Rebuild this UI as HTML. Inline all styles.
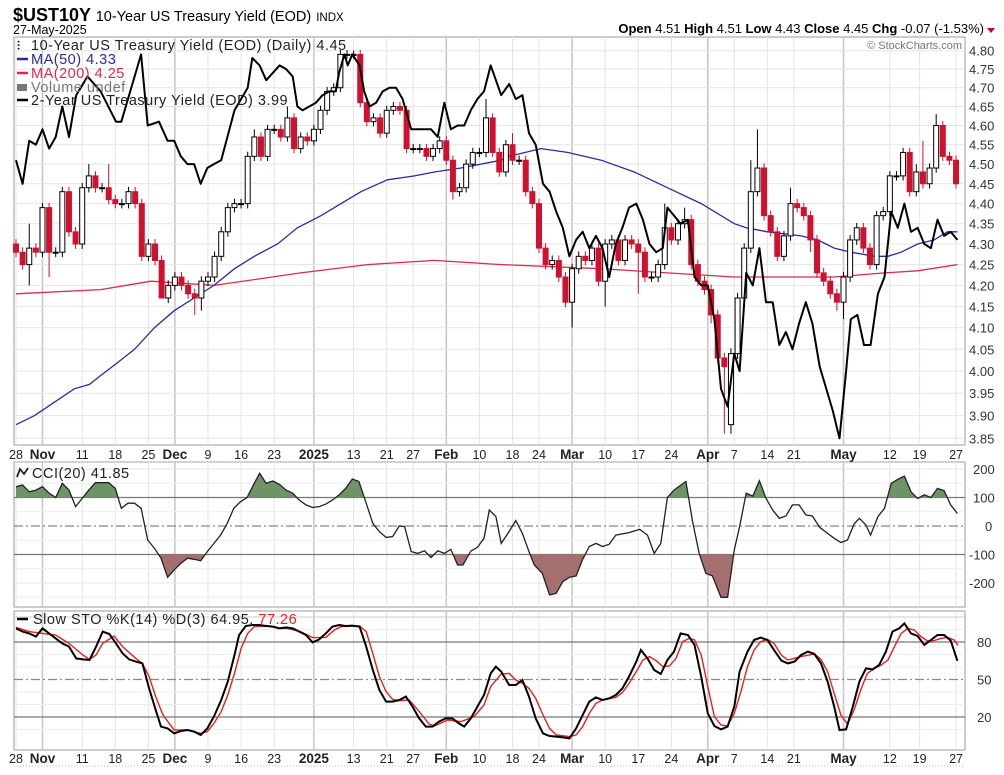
<!DOCTYPE html>
<html><head><meta charset="utf-8">
<style>
html,body{margin:0;padding:0;background:#fff;}
body{width:1004px;height:770px;overflow:hidden;font-family:"Liberation Sans",Arial,sans-serif;}
svg text{font-family:"Liberation Sans",Arial,sans-serif;}
</style></head>
<body>
<svg id="chart" width="1004" height="770" xmlns="http://www.w3.org/2000/svg">
<text x="13" y="21" font-size="18" font-weight="bold">$UST10Y <tspan font-weight="normal" font-size="14.5">10-Year US Treasury Yield (EOD)</tspan> <tspan font-weight="normal" font-size="11.5">INDX</tspan></text>
<text x="13" y="34" font-size="12.5">27-May-2025</text>
<text x="984" y="33" font-size="13" text-anchor="end"><tspan font-weight="bold">Open</tspan> 4.51  <tspan font-weight="bold">High</tspan> 4.51  <tspan font-weight="bold">Low</tspan> 4.43  <tspan font-weight="bold">Close</tspan> 4.45  <tspan font-weight="bold">Chg</tspan> -0.07 (-1.53%)</text>
<path d="M987,28 L995,28 L991,33 Z" fill="#cc0033"/>
<g id="g"></g>
</svg>
<script>
// ---------- DATA ----------
const closes=[4.28,4.25,4.29,4.28,4.39,4.28,4.28,4.43,4.33,4.30,4.44,4.47,4.44,4.44,4.41,4.40,4.40,4.43,4.40,4.27,4.30,4.26,4.17,4.20,4.22,4.20,4.18,4.17,4.21,4.22,4.27,4.33,4.39,4.40,4.40,4.52,4.57,4.52,4.59,4.59,4.57,4.62,4.54,4.57,4.56,4.59,4.64,4.69,4.70,4.79,4.79,4.79,4.66,4.61,4.62,4.58,4.64,4.65,4.64,4.54,4.54,4.54,4.52,4.54,4.56,4.51,4.43,4.44,4.50,4.53,4.53,4.62,4.53,4.48,4.55,4.51,4.51,4.43,4.40,4.29,4.25,4.26,4.22,4.16,4.24,4.27,4.26,4.29,4.21,4.30,4.31,4.26,4.31,4.30,4.28,4.22,4.22,4.25,4.34,4.31,4.35,4.36,4.25,4.21,4.19,4.13,4.03,4.01,4.04,4.17,4.29,4.43,4.49,4.37,4.33,4.27,4.32,4.40,4.39,4.37,4.31,4.23,4.21,4.18,4.16,4.22,4.31,4.34,4.29,4.25,4.37,4.38,4.47,4.47,4.53,4.43,4.48,4.45,4.49,4.60,4.52,4.51,4.45];
const firstOpen=4.30;
const openGaps={108:3.88,142:4.51};
const highExtremes={2:4.35,11:4.50,14:4.50,36:4.59,41:4.65,51:4.80,71:4.67,75:4.58,98:4.40,101:4.39,111:4.51,112:4.59,117:4.44,136:4.50,137:4.56,139:4.63};
const lowExtremes={2:4.20,5:4.22,22:4.17,27:4.13,28:4.14,66:4.41,84:4.10,89:4.15,94:4.18,105:4.11,107:3.86,108:3.86,120:4.28,124:4.14,125:4.12};
const twoYrIdx=[0,1,2,3,4,5,6,7,8,9.1,10.8,12.8,15.1,15.9,18.9,19.9,21.6,22.9,23.9,24.9,25.9,26.9,27.9,28.9,29.9,31,33,35,35.7,36.8,37.8,38.8,39.8,40.8,41.8,42.5,43.3,44.3,45.3,46.3,47.3,48.3,48.8,49.6,50.1,50.8,51.9,52.6,53.4,54.4,55.4,56.4,57.4,58.4,59.7,60.7,61.7,62.7,63.7,64.7,65.7,66.7,67.7,68.7,69.7,70.7,71.7,73.3,74.5,75.5,76.5,77.5,78.5,79.6,80.6,81.6,82.6,83.6,84.6,85.6,86.6,87.6,88.6,89.6,90.6,91.6,92.6,93.7,94.7,95.7,96.7,97.7,98.4,99.4,100.4,101.5,102.5,103.5,104.5,105.5,106.5,107.5,108.5,109.3,110.3,111.3,112.3,113.3,114.3,115.3,116.3,117.3,118.3,119.3,120.3,121.4,122.4,123.4,124.4,125.4,126.1,127.1,128.1,129.1,130.2,131.2,132.2,133.2,134.2,135.2,136.2,137.2,138.2,139.2,140.2,141.2,142.2];
const twoYrVal=[4.51,4.45,4.56,4.55,4.59,4.54,4.57,4.65,4.57,4.68,4.73,4.69,4.61,4.61,4.79,4.60,4.61,4.56,4.56,4.52,4.50,4.50,4.45,4.49,4.50,4.51,4.64,4.70,4.78,4.76,4.72,4.74,4.76,4.75,4.73,4.65,4.64,4.65,4.66,4.68,4.69,4.69,4.74,4.79,4.76,4.79,4.76,4.69,4.65,4.66,4.69,4.70,4.70,4.67,4.59,4.59,4.59,4.59,4.57,4.66,4.59,4.60,4.60,4.64,4.67,4.69,4.76,4.68,4.71,4.67,4.68,4.58,4.55,4.45,4.43,4.38,4.34,4.27,4.31,4.33,4.29,4.32,4.29,4.22,4.30,4.34,4.39,4.40,4.36,4.30,4.28,4.29,4.39,4.37,4.35,4.36,4.22,4.20,4.20,4.12,3.96,3.92,4.04,4.00,4.23,4.20,4.29,4.16,4.16,4.06,4.09,4.05,4.11,4.16,4.11,4.01,3.96,3.91,3.85,4.00,4.12,4.13,4.06,4.06,4.18,4.22,4.38,4.34,4.40,4.33,4.34,4.30,4.29,4.36,4.32,4.33,4.31];
const ma50Idx=[0,2.8,5.8,8.8,11.1,12.8,15.4,17.9,20.9,23.9,26.9,29.9,33,36,39.5,42.5,46.1,48.1,52.1,56.1,60.2,63.2,67.2,73.3,74.5,79.3,83.3,88.4,93.4,98.4,103.5,108.5,110.3,113.5,118.6,121.1,123.6,126.1,129.7,131.7,133.7,136.2,138.7,140.7,142.2];
const ma50Val=[3.88,3.90,3.93,3.96,3.97,3.99,4.02,4.05,4.10,4.14,4.17,4.20,4.24,4.27,4.30,4.34,4.37,4.39,4.43,4.46,4.47,4.48,4.49,4.51,4.52,4.54,4.53,4.51,4.48,4.44,4.40,4.35,4.34,4.33,4.32,4.31,4.29,4.28,4.27,4.27,4.28,4.30,4.31,4.33,4.33];
const ma200Idx=[0,12.8,20.4,29.9,43,53.1,63.2,73.3,88.4,98.4,108.5,123.6,131.2,136.2,142.2];
const ma200Val=[4.18,4.19,4.21,4.20,4.23,4.25,4.26,4.25,4.24,4.23,4.22,4.22,4.23,4.235,4.25];
const cciIdx=[0,1,2,3,4,5,6,7,8,9,10,11,12,14,15,15.9,16.9,17.9,18.9,19.9,20.9,21.9,22.9,23.9,24.9,25.9,26.9,27.9,28.9,29.9,30.9,31.9,32.9,33.9,34.9,36,36.8,37.8,38.8,39.8,40.8,41.8,42.8,43.8,44.8,45.8,46.8,47.8,48.8,49.8,50.8,51.8,52.9,53.9,54.9,55.9,56.9,57.9,58.7,59.7,60.7,61.7,62.7,63.7,64.7,65.7,66.7,67.5,68.7,69.7,70.7,71.5,72.5,73.3,74.3,75.5,76.5,77.5,78.3,79.5,80.6,81.6,82.6,83.6,84.6,85.6,86.6,87.6,88.6,89.6,90.6,92.6,94.2,95.4,96.4,97.4,98.4,99.4,101.2,102.2,103.2,104.2,105.2,106.5,107.5,108.5,109.3,110.3,111.3,112.3,113.3,114.3,115.3,116.3,117.3,118.3,119.3,120.3,121.4,122.6,123.6,124.6,125.6,126.6,127.4,128.4,129.1,130.2,131.2,132.2,133.2,134.2,135.2,136.2,137.2,138.2,139.2,140.2,141.2,142.2];
const cciVal=[138,144,120,126,138,115,100,150,126,68,97,126,152,152,132,62,80,80,62,-49,-78,-113,-180,-154,-131,-113,-117,-122,-90,-61,-32,9,62,85,100,150,185,150,158,146,126,115,91,74,65,68,77,91,109,132,165,156,80,9,-20,-40,-37,0,-2,-90,-96,-87,-111,-87,-96,-82,-137,-137,-88,-75,-43,56,33,-61,-26,19,-26,-90,-137,-166,-242,-236,-195,-180,-175,-117,-72,-61,-72,-64,-32,-23,-12,-32,-96,-61,100,126,156,15,-96,-166,-175,-250,-250,-84,-2,115,105,159,97,56,27,35,74,74,39,35,-5,-26,-43,-58,-49,7,27,3,-32,33,62,150,164,175,120,97,109,100,132,124,74,44];
const stoKIdx=[0,1,2,3,4,5,6,7,8,9.1,10.1,11.1,12.1,13.1,14.1,15.1,16.1,17.1,18.1,19.1,20.1,21.1,21.9,22.9,23.9,24.9,25.9,26.9,27.9,28.9,29.9,31,32,33,33.7,34.7,35.7,36.8,37.8,38.8,39.8,40.8,41.8,42.8,43.8,44.8,45.8,46.8,47.8,48.8,49.8,50.8,51.9,52.9,53.9,54.9,55.9,56.9,57.9,58.9,59.9,60.9,61.9,62.9,63.9,64.9,65.9,66.9,67.7,68.7,69.7,70.7,71.7,72.5,73.3,74.5,75.5,76.5,77.5,78.5,79.6,80.6,81.6,82.6,83.6,84.6,85.6,86.6,87.6,88.6,89.6,90.6,91.6,92.6,93.7,94.4,95.4,96.4,97.4,98.4,99.4,100.4,101.5,102.5,103.5,104.5,105.5,106.5,107.5,108.5,109.3,110.5,111.5,112.5,113.5,114.5,115.6,116.6,117.6,118.6,119.6,120.6,121.6,122.6,123.6,124.4,125.4,126.4,127.4,128.4,129.4,130.4,131.4,132.4,133.4,134.2,135.2,136.2,137.2,138.2,139.2,140.2,141.2,142.2];
const stoKVal=[90.9,88.3,86.9,84.3,90.9,86.9,82.9,78.9,76.3,66.9,66.1,65.6,76.3,88.3,86.4,78.9,70.9,66.1,64.3,62.9,42.9,25.6,12.3,10.9,6.9,8.8,9.6,8.3,5.6,10.9,20.3,33.6,48.3,69.6,85.6,92.8,93.6,93.6,92.8,92.3,90.9,91.7,90.9,88.3,85.6,79.7,82.1,86.9,92.3,93.6,92.8,93.1,92.3,76.3,57.6,41.6,32.3,32.3,33.6,36.3,28.3,18.9,12.3,12.3,16.3,18.9,18.9,14.9,12.3,18.9,28.3,37.6,54.9,60.3,56.3,45.6,45.6,49.6,36.3,18.9,6.9,4.8,4.3,3.7,2.9,10.9,21.6,32.3,35.7,33.6,34.9,37.6,42.9,52.3,64.3,73.6,66.9,57.6,54.4,65.6,72.3,86.9,85.6,77.6,52.3,22.9,12.8,10.1,12.3,28.3,56.3,72.3,81.6,83.5,81.6,73.6,65.1,62.9,64.3,69.6,72.3,70.4,62.9,48.3,28.3,9.6,10.1,28.3,48.3,58.9,58.1,61.6,72.3,88.3,90.9,94.9,86.9,84.8,77.6,81.6,85.6,85.6,81.1,64.95];
const stoDIdx=[0,2,4,6,8,10.1,11.1,12.1,13.1,14.8,16.1,18.1,19.1,20.1,21.1,22.2,23.9,25.9,27.9,28.9,29.9,31,32,33,34,35,36,38,40,41,43,44.8,46.8,48.1,49.1,51.9,52.9,53.9,54.9,55.9,56.9,57.9,59.4,60.9,62.4,63.2,65.2,67.2,69.2,70.7,71.7,73.3,74.5,75.5,76.5,77.5,78.5,79.6,80.6,81.6,83.6,84.6,85.6,86.6,87.6,88.6,90.6,91.6,92.6,93.7,94.7,95.7,96.7,97.7,98.7,99.7,100.7,101.7,102.5,103.5,104.5,105.5,106.5,107.5,108.5,109.5,110.5,111.5,112.5,113.5,114.5,115.6,116.6,118.6,120.6,121.6,122.6,123.6,124.6,125.6,126.6,127.6,128.6,129.7,130.7,131.7,132.7,133.7,134.7,135.7,136.7,137.7,138.7,139.7,140.7,141.7,142.3];
const stoDVal=[91.7,88.3,86.9,85.6,78.9,69.6,66.1,69.6,78.9,84.8,76.3,66.9,62.9,52.3,36.3,21.6,9.6,9.6,6.9,8.3,14.9,24.3,37.6,54.9,74.9,86.9,92.3,92.8,90.9,90.9,88.3,83.5,83.7,89.6,92.3,92.8,88.3,70.9,52.3,40.3,34.1,33.1,33.6,24.3,14.4,12.8,17.6,16.3,20.3,29.6,44.3,54.4,54.9,49.6,46.9,42.9,34.9,21.6,10.9,5.6,4.3,5.6,12.3,22.9,30.9,33.6,35.7,39.5,46.9,56.3,65.6,68.3,65.1,60.3,60.8,66.9,80.3,82.9,81.6,69.6,44.3,20.3,13.6,12.8,22.9,40.3,60.3,73.6,80.3,82.1,78.9,69.6,65.6,68.3,70.4,66.1,56.3,38.9,21.6,14.4,25.6,41.6,54.9,58.9,61.6,65.6,76.3,86.9,90.9,89.6,84.3,80.8,81.1,82.9,83.7,81.6,77.26];
const xTickIdx=[0,4,10,15,20,24,29,34,39,45,51,56,60,65,70,75,79,84,89,94,99,104.5,108.5,113.5,117.5,125,132,136.5,142];
const xTickLbl=['28','Nov','11','18','25','Dec','9','16','23','2025','13','21','27','Feb','10','18','24','Mar','10','17','24','Apr','7','14','21','May','12','19','27'];
const majorTicks=['Nov','Dec','2025','Feb','Mar','Apr','May'];
const priceTicks=[4.80,4.75,4.70,4.65,4.60,4.55,4.50,4.45,4.40,4.35,4.30,4.25,4.20,4.15,4.10,4.05,4.00,3.95,3.90,3.85];
const cciTicks=[200,100,0,-100,-200];
const stoTicks=[80,50,20];

// ---------- SCALES ----------
const L=14,R=965;
const X0=16,DX=6.62;
const xs=i=>X0+i*DX;
const MT=37,MB=445,P_TOP=4.80,P_BOT=3.85,YT=50.7,YB=438.3;
const ym=v=>YT+Math.log(P_TOP/v)/Math.log(P_TOP/P_BOT)*(YB-YT);
const CT=462,CB=607;
const yc=v=>526-v*0.285;
const ST=611,SB=750;
const ys=v=>742-v*1.25;

const NS='http://www.w3.org/2000/svg';
const G=document.getElementById('g');
function mk(tag,attrs,parent){const e=document.createElementNS(NS,tag);for(const k in attrs)e.setAttribute(k,attrs[k]);(parent||G).appendChild(e);return e;}
function txt(s,attrs,parent){const e=mk('text',attrs,parent);e.textContent=s;return e;}

// ---------- PANELS ----------
function panel(top,bot,name){
  const r=mk('rect',{x:L,y:top,width:R-L,height:bot-top,fill:'#fff',stroke:'#999','stroke-width':1});
  
  
  xTickIdx.forEach((t,k)=>{
    const maj=majorTicks.includes(xTickLbl[k]);
    const l=mk('line',{x1:xs(t),x2:xs(t),y1:top,y2:bot,stroke:maj?'#c8c8c8':'#e4e4e4','stroke-width':maj?1.6:1});
    
    
  });
}
panel(MT,MB,'price-panel');
panel(CT,CB,'cci-panel');
panel(ST,SB,'sto-panel');

// price grid + axis
priceTicks.forEach(v=>{
  const y=ym(v);
  const l=mk('line',{x1:L,x2:R,y1:y,y2:y,stroke:'#e4e4e4'});
  
  
  const t=txt(v.toFixed(2),{x:969,y:y+5,'font-size':13,fill:'#333'});
  
  
});
// CCI grid
[150,50,-50,-150,-250].forEach(v=>{const l=mk('line',{x1:L,x2:R,y1:yc(v),y2:yc(v),stroke:'#ececec'});});
cciTicks.forEach(v=>{
  const y=yc(v);
  if(v===100||v===-100){const l=mk('line',{x1:L,x2:R,y1:y,y2:y,stroke:'#777','stroke-width':1.2});}
  else if(v===0){const l=mk('line',{x1:L,x2:R,y1:y,y2:y,stroke:'#888','stroke-width':1.2,'stroke-dasharray':'9,3,2,3'});}
  else {const l=mk('line',{x1:L,x2:R,y1:y,y2:y,stroke:'#e4e4e4'});}
  const t=txt(String(v),{x:v===0?985:(v<0?969:973),y:y+5,'font-size':13,fill:'#333'});
  
  
});
// STO grid
[90,70,60,40,30,10].forEach(v=>{const l=mk('line',{x1:L,x2:R,y1:ys(v),y2:ys(v),stroke:'#ececec'});});
const topLine=mk('line',{x1:L,x2:R,y1:ys(100),y2:ys(100),stroke:'#ccc'});


stoTicks.forEach(v=>{
  const y=ys(v);
  const l=mk('line',{x1:L,x2:R,y1:y,y2:y,stroke:v===50?'#888':'#777','stroke-width':1.2,'stroke-dasharray':v===50?'9,3,2,3':'none'});
  
  
  const t=txt(String(v),{x:977,y:y+5,'font-size':13,fill:'#333'});
  
  
});

// x-axis labels
[[459,'x-axis-labels-top'],[763,'x-axis-labels-bottom']].forEach(([y,n])=>{
  const d=mk('line',{x1:L,x2:R,y1:y+3,y2:y+3,stroke:'#bbb','stroke-dasharray':'1,2'});
  
  
  xTickIdx.forEach((t,k)=>{
    const maj=majorTicks.includes(xTickLbl[k]);
    const e=txt(xTickLbl[k],{x:xs(t),y:y,'font-size':maj?13.5:12.5,'font-weight':maj?'bold':'normal','text-anchor':'middle',fill:'#222'});
    
    
  });
});

// ---------- SERIES ----------
function pathFrom(idx,val,yf){return idx.map((t,k)=>(k?'L':'M')+xs(t).toFixed(1)+','+yf(val[k]).toFixed(1)).join(' ');}

const ma200=mk('path',{d:pathFrom(ma200Idx,ma200Val,ym),fill:'none',stroke:'#dd2a4a','stroke-width':1.3});


const ma50=mk('path',{d:pathFrom(ma50Idx,ma50Val,ym),fill:'none',stroke:'#2b2ba0','stroke-width':1.3});



closes.forEach((c,i)=>{
  const o=(i in openGaps)?openGaps[i]:(i===0?firstOpen:closes[i-1]);
  const prev=i===0?firstOpen:closes[i-1];
  const col=c>=prev?'#000':'#d0102e';
  const hi=(i in highExtremes)?highExtremes[i]:Math.max(o,c)+0.012;
  const lo=(i in lowExtremes)?lowExtremes[i]:Math.min(o,c)-0.012;
  const x=xs(i);
  const w=mk('line',{x1:x,x2:x,y1:ym(hi),y2:ym(lo),stroke:col,'stroke-width':1});
  
  
  const yt=ym(Math.max(o,c)),yb=ym(Math.min(o,c));
  const hollow=c>o;
  const b=mk('rect',{x:x-2.5,y:yt,width:5,height:Math.max(1,yb-yt),fill:hollow?'#fff':col,stroke:col,'stroke-width':1});
  
  
});

const two=mk('path',{d:pathFrom(twoYrIdx,twoYrVal,ym),fill:'none',stroke:'#000','stroke-width':2,'stroke-linejoin':'round'});



function bandFill(idx,val,level,above,color,name){
  let seg=[];
  const flush=()=>{if(seg.length>1){const d='M'+seg.map(p=>p[0].toFixed(1)+','+p[1].toFixed(1)).join(' L')+' Z';const p=mk('path',{d:d,fill:color,stroke:'none'});}seg=[];};
  for(let k=0;k<idx.length;k++){
    const v=val[k],inside=above?v>level:v<level;
    if(k>0){const pv=val[k-1],pin=above?pv>level:pv<level;
      if(pin!==inside){const t=(level-pv)/(v-pv);const xi=xs(idx[k-1]+t*(idx[k]-idx[k-1]));
        if(inside){seg=[[xi,yc(level)]];}else{seg.push([xi,yc(level)]);flush();}}}
    else if(inside){seg=[[xs(idx[k]),yc(level)]];}
    if(inside)seg.push([xs(idx[k]),yc(v)]);
  }
  if(seg.length){seg.push([xs(idx[idx.length-1]),yc(level)]);flush();}
}
bandFill(cciIdx,cciVal,100,true,'#6e9466','cci-overbought-fill');
bandFill(cciIdx,cciVal,-100,false,'#a66f6f','cci-oversold-fill');
const cci=mk('path',{d:pathFrom(cciIdx,cciVal,yc),fill:'none',stroke:'#222','stroke-width':1.3});



const sd=mk('path',{d:pathFrom(stoDIdx,stoDVal,ys),fill:'none',stroke:'#ee1c1c','stroke-width':1.4});


const sk=mk('path',{d:pathFrom(stoKIdx,stoKVal,ys),fill:'none',stroke:'#000','stroke-width':2});



// ---------- LEGENDS ----------
const LFS=14.5, LLS=0.5;
function leg(y,swatch,label,color,name){
  if(swatch){const s=mk('line',{x1:17,x2:28,y1:y-5,y2:y-5,stroke:swatch,'stroke-width':2.5});}
  const t=txt(label,{x:31,y:y,'font-size':LFS,'letter-spacing':LLS,fill:color});
  
  
  return t;
}
const ic=txt('\u2AF6',{x:17,y:50,'font-size':12,'font-weight':'bold',fill:'#000'});


leg(50,null,'10-Year US Treasury Yield (EOD) (Daily) 4.45','#222','legend-10yr');
leg(64,'#2b2ba0','MA(50) 4.33','#2b2ba0','legend-ma50');
leg(78,'#dd2a4a','MA(200) 4.25','#dd2a4a','legend-ma200');
const vi=mk('rect',{x:17,y:84,width:10,height:7,fill:'#777'});


leg(92,null,'Volume undef','#777','legend-volume');
leg(105,'#000','2-Year US Treasury Yield (EOD) 3.99','#222','legend-2yr');
const cr=txt('\u00A9 StockCharts.com',{x:962,y:49,'font-size':11,fill:'#777','text-anchor':'end'});


const cl=txt('CCI(20) 41.85',{x:32,y:478,'font-size':LFS,'letter-spacing':LLS,fill:'#222'});


const ci=mk('path',{d:'M17,477 L20,469 L24,474 L28,468',fill:'none',stroke:'#222','stroke-width':1.8});


const sl=mk('line',{x1:17,x2:28,y1:619,y2:619,stroke:'#000','stroke-width':2.5});


const st=txt('',{x:33,y:624,'font-size':LFS,'letter-spacing':LLS,fill:'#222'});


const ts1=mk('tspan',{},st);ts1.textContent='Slow STO %K(14) %D(3) 64.95, ';
const ts2=mk('tspan',{fill:'#ee1c1c'},st);ts2.textContent='77.26';
</script>
</body></html>
